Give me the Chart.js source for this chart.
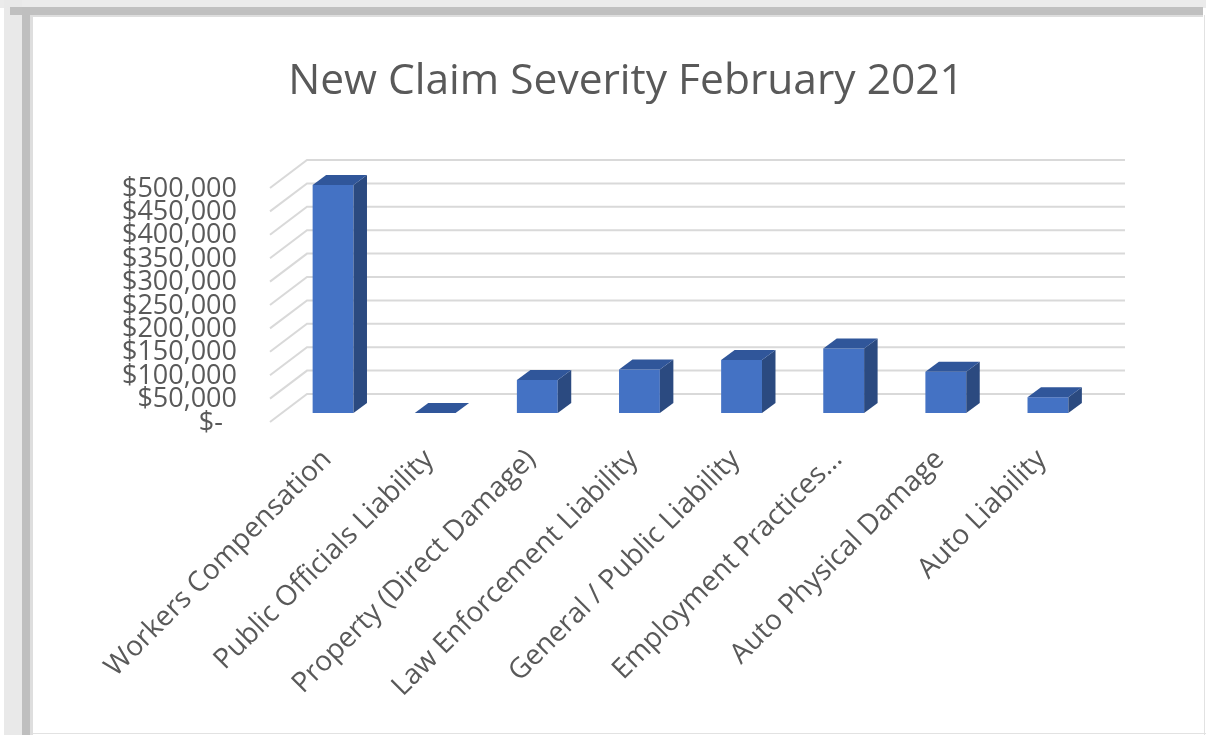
<!DOCTYPE html>
<html>
<head>
<meta charset="utf-8">
<script src="https://cdn.jsdelivr.net/npm/chart.js@4.4.1/dist/chart.umd.min.js"></script>
<style>
html,body{margin:0;padding:0;background:#fff;}
#wrap{position:relative;width:1206px;height:735px;}
</style>
</head>
<body>
<div id="wrap"><canvas id="c" width="1206" height="735"></canvas></div>
<script>
// ---- data ----
const titleText = 'New Claim Severity February 2021';
const categories = [
  'Workers Compensation',
  'Public Officials Liability',
  'Property (Direct Damage)',
  'Law Enforcement Liability',
  'General / Public Liability',
  'Employment Practices…',
  'Auto Physical Damage',
  'Auto Liability'
];
const severity = [487000, 0, 70500, 93000, 113000, 138000, 88000, 33500];
const yTickValues = [0, 50000, 100000, 150000, 200000, 250000, 300000, 350000, 400000, 450000, 500000];
const yTickLabels = ['$-  ', '$50,000', '$100,000', '$150,000', '$200,000', '$250,000', '$300,000', '$350,000', '$400,000', '$450,000', '$500,000'];

// ---- style ----
const FONT = "'Open Sans', 'Liberation Sans', sans-serif";
const TEXT = '#595959';
const GRID = '#d9d9d9';
const FRONT = '#4472c4';
const SIDE = '#2b4a80';
const TOP = '#30569a';
const DEPTH = {dx: 13.5, dy: -10};
const WALL = {dx: 25, dy: -19, fx: -12, fy: 9};

const framePlugin = {
  id: 'frame',
  beforeDraw(chart) {
    const ctx = chart.ctx, W = chart.width, H = chart.height;
    ctx.save();
    ctx.fillStyle = '#ffffff'; ctx.fillRect(0, 0, W, H);
    ctx.fillStyle = '#ebebeb'; ctx.fillRect(0, 0, W, 8);
    ctx.fillStyle = '#e9e9e9'; ctx.fillRect(4, 0, 18, H);
    ctx.fillStyle = '#c0c0c0'; ctx.fillRect(10, 7, W - 13, 8);
    ctx.fillStyle = '#bfbfbf'; ctx.fillRect(22, 7, 8, H - 7);
    ctx.fillStyle = '#dedede'; ctx.fillRect(30, 15, 3, H - 15); ctx.fillRect(30, 15, W - 33, 2);
    ctx.fillStyle = '#e2e2e2'; ctx.fillRect(33, H - 2, W - 33, 1); ctx.fillRect(W - 2, 15, 1, H - 15);
    ctx.restore();
  }
};

const bar3dPlugin = {
  id: 'bar3d',
  beforeDatasetsDraw(chart) {
    const ctx = chart.ctx, ys = chart.scales.y, xs = chart.scales.x;
    ctx.save();
    ctx.strokeStyle = GRID; ctx.lineWidth = 2;
    yTickValues.forEach(v => {
      const y = ys.getPixelForValue(v);
      ctx.beginPath();
      ctx.moveTo(xs.left + WALL.fx, y + WALL.fy);
      ctx.lineTo(xs.left + WALL.dx, y + WALL.dy);
      ctx.lineTo(xs.right + WALL.dx + 1, y + WALL.dy);
      ctx.stroke();
    });
    ctx.restore();
  },
  afterDatasetsDraw(chart) {
    const ctx = chart.ctx;
    const meta = chart.getDatasetMeta(0);
    ctx.save();
    meta.data.forEach(bar => {
      const {x, y, base, width} = bar.getProps(['x', 'y', 'base', 'width'], true);
      const l = x - width / 2, r = x + width / 2;
      ctx.fillStyle = SIDE;
      ctx.beginPath();
      ctx.moveTo(r, y); ctx.lineTo(r + DEPTH.dx, y + DEPTH.dy);
      ctx.lineTo(r + DEPTH.dx, base + DEPTH.dy); ctx.lineTo(r, base);
      ctx.closePath(); ctx.fill();
      ctx.fillStyle = TOP;
      ctx.beginPath();
      ctx.moveTo(l, y); ctx.lineTo(l + DEPTH.dx, y + DEPTH.dy);
      ctx.lineTo(r + DEPTH.dx, y + DEPTH.dy); ctx.lineTo(r, y);
      ctx.closePath(); ctx.fill();
    });
    ctx.restore();
  }
};

new Chart(document.getElementById('c'), {
  type: 'bar',
  data: {
    labels: categories,
    datasets: [{
      label: 'Severity',
      data: severity,
      backgroundColor: FRONT,
      borderWidth: 0,
      barPercentage: 0.4,
      categoryPercentage: 1.0
    }]
  },
  options: {
    responsive: false,
    animation: false,
    layout: { autoPadding: false, padding: { left: 60, right: 14, top: 0, bottom: 0 } },
    plugins: {
      legend: { display: false },
      tooltip: { enabled: false },
      title: {
        display: true,
        text: titleText,
        color: TEXT,
        font: { family: FONT, size: 42.5, weight: 'normal', lineHeight: 1.2 },
        padding: { top: 56, bottom: 72 }
      }
    },
    scales: {
      x: {
        grid: { display: false, drawTicks: false },
        border: { display: false },
        ticks: {
          autoSkip: false, maxRotation: 45, minRotation: 45,
          color: TEXT, padding: 30, labelOffset: -6,
          font: { family: FONT, size: 28 }
        },
        afterFit(scale) { scale.height = 322; }
      },
      y: {
        min: 0, max: 500000,
        grid: { display: false, drawTicks: false },
        border: { display: false },
        ticks: {
          stepSize: 50000, autoSkip: false,
          color: TEXT, padding: 45, labelOffset: 10,
          font: { family: FONT, size: 27 },
          callback: (v, i) => yTickLabels[i]
        },
        afterFit(scale) { scale.width = 222; }
      },
      yRight: {
        position: 'right',
        min: 0, max: 500000,
        grid: { display: false, drawTicks: false },
        border: { display: false },
        ticks: { display: false },
        afterFit(scale) { scale.width = 93; }
      }
    }
  },
  plugins: [framePlugin, bar3dPlugin]
});
</script>
</body>
</html>
